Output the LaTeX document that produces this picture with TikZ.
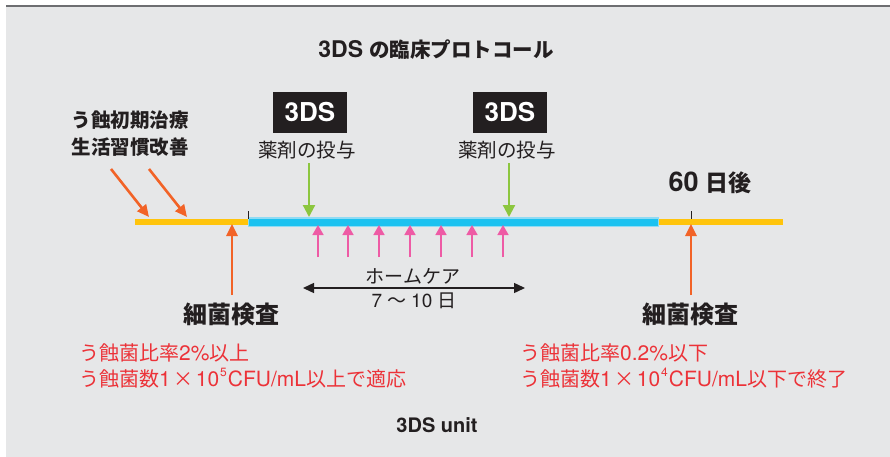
\documentclass[tikz,border=0pt]{standalone}
\usepackage{fontspec}
\setmainfont{TeX Gyre Heros}
\newfontfamily\jp{Noto Sans CJK JP}
\newfontfamily\lat{TeX Gyre Heros}
\usetikzlibrary{arrows.meta}
\definecolor{bg}{HTML}{E6E7E8}
\definecolor{topline}{HTML}{6D6E71}
\definecolor{ink}{HTML}{231F20}
\definecolor{yel}{HTML}{FFC40C}
\definecolor{cyanbar}{HTML}{1CC2F0}
\definecolor{cyanedge}{HTML}{8FDBF4}
\definecolor{orng}{HTML}{F26327}
\definecolor{grn}{HTML}{8CC63F}
\definecolor{pnk}{HTML}{EE5BA5}
\definecolor{redtxt}{HTML}{EC3238}
\newcommand\fsz[1]{\fontsize{#1}{#1}\selectfont}
\newcommand\supnum[1]{\hspace{1pt}\raisebox{0.5em}{\lat\fsz{12}#1}\hspace{1pt}}
\newcommand\lt[1]{{\lat\fsz{21}#1}}
\newcommand\tms{\hspace{2.5pt}×\hspace{2.5pt}}
\begin{document}
\begin{tikzpicture}[x=1pt,y=-1pt,
  txt/.style={inner sep=0pt, text=ink},
  redline/.style={inner sep=0pt, text=redtxt, anchor=west, font=\jp\fsz{20}},
  badge/.style={fill=ink, text=white, inner sep=0pt, minimum width=74pt, minimum height=41pt, font=\bfseries\fsz{26}},
  orarrow/.style={draw=orng, line width=2.6pt, -{Triangle[length=12pt,width=11pt]}},
  grarrow/.style={draw=grn, line width=2.2pt, -{Triangle[length=12pt,width=12pt]}},
  pkarrow/.style={draw=pnk, line width=1.6pt, -{Triangle[length=10pt,width=11pt]}},
  bkarrow/.style={draw=ink, line width=1.4pt, {Triangle[length=11pt,width=10pt]}-{Triangle[length=11pt,width=10pt]}},
  tick/.style={draw=ink, line width=0.8pt}
]
\useasboundingbox (0,0) rectangle (890,457);
\fill[bg] (6,7) rectangle (890,457);
\draw[topline, line width=2pt] (6,6) -- (890,6);

% title
\node[txt, font=\bfseries] (title) at (436,50) {{\fsz{23}3DS}\hspace{6pt}{\jp\fsz{20.5}の臨床プロトコール}};

% left note
\node[txt, font=\jp\bfseries\fsz{19.5}] (note1) at (130,120) {う蝕初期治療};
\node[txt, font=\jp\bfseries\fsz{19.5}] (note2) at (130,147) {生活習慣改善};

% badges
\node[badge] (b1) at (310,112.5) {3DS};
\node[badge] (b2) at (510,112.5) {3DS};
\node[txt, font=\jp\fsz{19.5}] (d1) at (307,150) {薬剤の投与};
\node[txt, font=\jp\fsz{19.5}] (d2) at (507,150) {薬剤の投与};

% 60 days
\node[txt, font=\bfseries] (d60) at (710,183) {{\fsz{27}60}\hspace{7pt}{\jp\fsz{23}日後}};

% timeline
\coordinate (yl1) at (135,222);
\coordinate (yl2) at (248,222);
\coordinate (bl2) at (659,222);
\coordinate (yr2) at (783,222);
\draw[yel, line width=6pt] (yl1) -- (yl2);
\draw[cyanedge, line width=9.5pt] (yl2) -- (bl2);
\draw[cyanbar, line width=7pt] ([xshift=0.8pt]yl2) -- ([xshift=-0.8pt]bl2);
\draw[yel, line width=6pt] (bl2) -- (yr2);
\coordinate (t1a) at (248,211);
\coordinate (t1b) at (248,219);
\coordinate (t2a) at (691,211);
\coordinate (t2b) at (691,219);
\draw[tick] (t1a) -- (t1b);
\draw[tick] (t2a) -- (t2b);

% orange diagonal arrows
\coordinate (o1s) at (111,169);
\coordinate (o1e) at (149,217);
\coordinate (o2s) at (149,169);
\coordinate (o2e) at (187,217);
\draw[orarrow] (o1s) -- (o1e);
\draw[orarrow] (o2s) -- (o2e);

% green arrows
\coordinate (g1s) at (309,163);
\coordinate (g1e) at (309,217);
\coordinate (g2s) at (509,163);
\coordinate (g2e) at (509,217);
\draw[grarrow] (g1s) -- (g1e);
\draw[grarrow] (g2s) -- (g2e);

% pink arrows
\foreach \i/\x in {1/318,2/348,3/379,4/410,5/441,6/472,7/503}{
  \coordinate (p\i s) at (\x,257);
  \coordinate (p\i e) at (\x,225);
  \draw[pkarrow] (p\i s) -- (p\i e);
}

% home care
\node[txt, font=\jp\fsz{19}] (hc) at (413,276) {ホームケア};
\coordinate (ha) at (303,288);
\coordinate (hb) at (525,288);
\draw[bkarrow] (ha) -- (hb);
\node[txt, font=\fsz{19}] (days) at (414,301) {7\hspace{5pt}{\jp 〜}\hspace{5pt}10\hspace{5pt}{\jp 日}};

% orange vertical arrows (bacterial test)
\node[txt, font=\jp\bfseries\fsz{24}] (bt1) at (231,314) {細菌検査};
\node[txt, font=\jp\bfseries\fsz{24}] (bt2) at (690,314) {細菌検査};
\coordinate (v1s) at (232,295);
\coordinate (v1e) at (232,224);
\coordinate (v2s) at (691,295);
\coordinate (v2e) at (691,224);
\draw[orarrow] (v1s) -- (v1e);
\draw[orarrow] (v2s) -- (v2e);

% red criteria
\node[redline] (r1) at (79,353) {う蝕菌比率\lt{2\%}以上};
\node[redline] (r2) at (79,378) {う蝕菌数\lt{1}\tms\lt{10}\supnum{5}\lt{CFU/mL}以上で適応};
\node[redline] (r3) at (520,353) {う蝕菌比率\lt{0.2\%}以下};
\node[redline] (r4) at (520,378) {う蝕菌数\lt{1}\tms\lt{10}\supnum{4}\lt{CFU/mL}以下で終了};

% footer
\node[txt, font=\bfseries\fsz{20}] (unit) at (437,425) {3DS unit};
\end{tikzpicture}
\end{document}
